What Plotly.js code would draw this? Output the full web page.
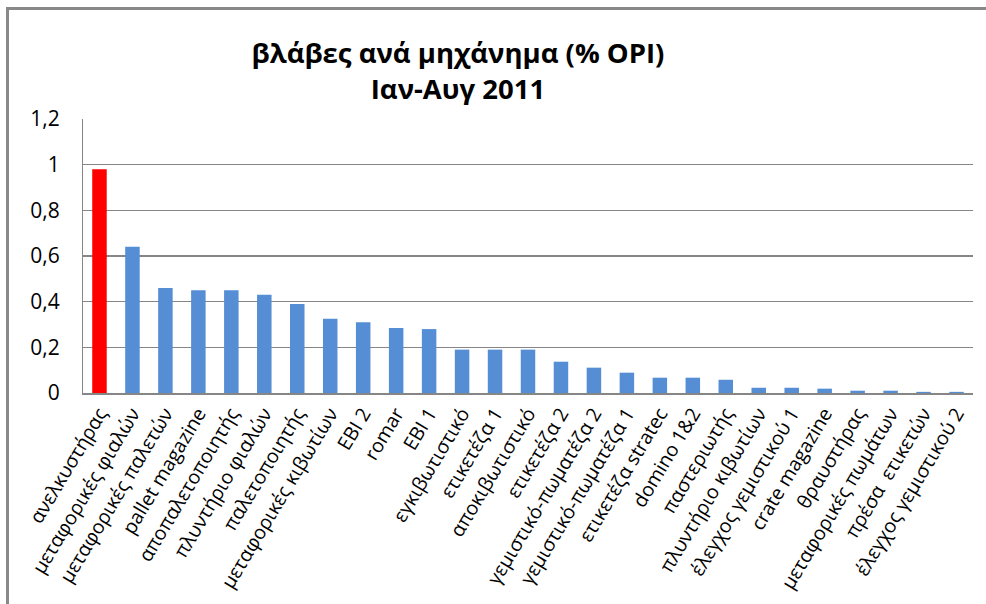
<!DOCTYPE html>
<html>
<head>
<meta charset="utf-8">
<script src="https://cdn.plot.ly/plotly-3.0.1.min.js"></script>
<style>
html,body{margin:0;padding:0;background:#fff;overflow:hidden;}
#wrap{position:relative;width:986px;height:604px;overflow:hidden;}
#chart{width:986px;height:604px;}
#frame{position:absolute;left:6px;top:7px;width:1000px;height:620px;border-left:3px solid #898989;border-top:3px solid #898989;pointer-events:none;}
</style>
</head>
<body>
<div id="wrap">
<div id="chart"></div>
<div id="frame"></div>
</div>
<script>
const categories = [
  "ανελκυστήρας", "μεταφορικές φιαλών", "μεταφορικές παλετών", "pallet magazine",
  "αποπαλετοποιητής", "πλυντήριο φιαλών", "παλετοποιητής", "μεταφορικές κιβωτίων",
  "EBI 2", "romar", "EBI 1", "εγκιβωτιστικό", "ετικετέζα 1", "αποκιβωτιστικό",
  "ετικετέζα 2", "γεμιστικό-πωματέζα 2", "γεμιστικό-πωματέζα 1", "ετικετέζα stratec",
  "domino 1&2", "παστεριωτής", "πλυντήριο κιβωτίων", "έλεγχος γεμιστικού 1",
  "crate magazine", "θραυστήρας", "μεταφορικές πωμάτων", "πρέσα  ετικετών",
  "έλεγχος γεμιστικού 2"
];
const values = [
  0.98, 0.64, 0.46, 0.45, 0.45, 0.43, 0.39, 0.325, 0.31, 0.285, 0.28, 0.19, 0.19, 0.19,
  0.137, 0.111, 0.089, 0.067, 0.067, 0.058, 0.023, 0.023, 0.019, 0.01, 0.01, 0.005, 0.005
];
const yTicks = [0, 0.2, 0.4, 0.6, 0.8, 1, 1.2];
const titleText = "βλάβες ανά μηχάνημα (% OPI)<br>Ιαν-Αυγ 2011";

const highlightColor = "#FF0000";
const barColor = "#558ED5";
const colors = values.map((v, i) => i === 0 ? highlightColor : barColor);

const trace = {
  type: "bar",
  x: categories,
  y: values,
  marker: { color: colors, line: { width: 0 } },
  hoverinfo: "x+y"
};

const layout = {
  width: 986,
  height: 604,
  margin: { l: 83, r: 13, t: 119, b: 211 },
  paper_bgcolor: "#ffffff",
  plot_bgcolor: "#ffffff",
  separators: ", ",
  bargap: 0.56,
  showlegend: false,
  font: { family: "Open Sans, sans-serif", color: "#000" },
  title: {
    text: titleText,
    font: { family: "Open Sans, sans-serif", size: 27.5, color: "#000", weight: "bold" },
    xref: "container", x: 458 / 986, xanchor: "center",
    yref: "container", y: 1 - 63 / 604, yanchor: "middle"
  },
  xaxis: {
    type: "category",
    tickangle: -59,
    tickfont: { family: "Open Sans, sans-serif", size: 19.5, color: "#000" },
    showgrid: false,
    showline: true,
    linecolor: "#868686",
    linewidth: 1.5,
    ticks: "",
    ticklabelstandoff: 0,
    fixedrange: true
  },
  yaxis: {
    range: [0, 1.2],
    tickvals: yTicks,
    tickfont: { family: "Open Sans, sans-serif", size: 21, color: "#000" },
    showgrid: true,
    gridcolor: "#868686",
    gridwidth: 1.2,
    zeroline: false,
    showline: true,
    linecolor: "#868686",
    linewidth: 1,
    ticks: "",
    ticklabelstandoff: 18,
    fixedrange: true
  }
};

Plotly.newPlot("chart", [trace], layout, { displayModeBar: false, staticPlot: true });
</script>
</body>
</html>
